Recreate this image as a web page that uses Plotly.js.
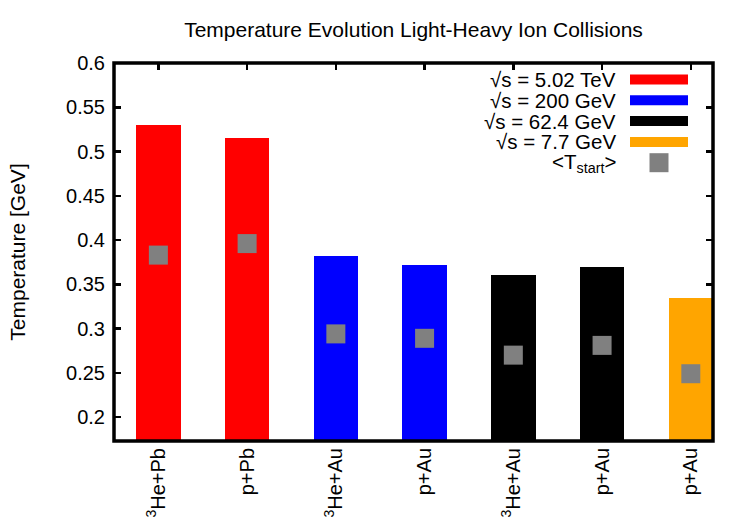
<!DOCTYPE html>
<html>
<head>
<meta charset="utf-8">
<script src="https://cdn.plot.ly/plotly-3.0.1.min.js"></script>
<style>
  html, body { margin: 0; padding: 0; background: #fff; }
  #chart { width: 750px; height: 525px; }
</style>
</head>
<body>
<div id="chart"></div>
<script>
// Collision systems, one bar each
const systems = ['<sup>3</sup>He+Pb', 'p+Pb', '<sup>3</sup>He+Au', 'p+Au', '<sup>3</sup>He+Au', 'p+Au', 'p+Au'];
// Collision energy group of each system (index into energyLabels)
const energyGroup = [0, 0, 1, 1, 2, 2, 3];
const energyLabels = ['√s = 5.02 TeV', '√s = 200 GeV', '√s = 62.4 GeV', '√s = 7.7 GeV'];
const energyColors = ['#ff0000', '#0000ff', '#000000', '#ffa500'];
// Maximum temperature reached [GeV]
const tempMax = [0.530, 0.515, 0.382, 0.372, 0.361, 0.370, 0.334];
// Average starting temperature <T_start> [GeV]
const tempStart = [0.383, 0.396, 0.294, 0.289, 0.270, 0.281, 0.249];
const startLabel = '&lt;T<sub>start</sub>&gt;';
// Temperature axis ticks
const yTicks = [0.2, 0.25, 0.3, 0.35, 0.4, 0.45, 0.5, 0.55, 0.6];
const yTickText = ['0.2', '0.25', '0.3', '0.35', '0.4', '0.45', '0.5', '0.55', '0.6'];

const FONT = 'Liberation Sans, Arial, Helvetica, sans-serif';
const xPos = systems.map((_, i) => i);

const bars = {
  type: 'bar',
  x: xPos,
  y: tempMax,
  width: 0.5,
  marker: { color: energyGroup.map(g => energyColors[g]), line: { width: 0 } },
  showlegend: false,
  hoverinfo: 'y'
};

const starts = {
  type: 'scatter',
  mode: 'markers',
  x: xPos,
  y: tempStart,
  marker: { symbol: 'square', size: 19, color: '#808080', line: { width: 0 } },
  showlegend: false,
  hoverinfo: 'y'
};

// Hand-drawn key in the upper right corner (text to the left of each swatch)
const M = { l: 114, r: 37, t: 63, b: 84 };
const W = 750, H = 525;
const pw = W - M.l - M.r, ph = H - M.t - M.b;
const px = x => (x - M.l) / pw;
const py = y => (H - M.b - y) / ph;

const keyRows = [79.5, 100.3, 121.1, 141.9, 162.7];
const annotations = [];
const shapes = [];
energyLabels.forEach((lab, i) => {
  annotations.push({
    xref: 'paper', yref: 'paper', x: px(618), y: py(keyRows[i]),
    xanchor: 'right', yanchor: 'middle', showarrow: false,
    text: lab, font: { family: FONT, size: 20.5, color: '#000' }
  });
  shapes.push({
    type: 'rect', xref: 'paper', yref: 'paper', layer: 'above',
    x0: px(630), x1: px(688), y0: py(keyRows[i] + 5), y1: py(keyRows[i] - 5),
    fillcolor: energyColors[i], line: { width: 0 }
  });
});
annotations.push({
  xref: 'paper', yref: 'paper', x: px(618), y: py(keyRows[4]),
  xanchor: 'right', yanchor: 'middle', showarrow: false,
  text: startLabel, font: { family: FONT, size: 20.5, color: '#000' }
});
shapes.push({
  type: 'rect', xref: 'paper', yref: 'paper', layer: 'above',
  x0: px(649.5), x1: px(668.5), y0: py(keyRows[4] + 9.5), y1: py(keyRows[4] - 9.5),
  fillcolor: '#808080', line: { width: 0 }
});
// Frame around the plotting area
shapes.push({
  type: 'rect', xref: 'paper', yref: 'paper', layer: 'above',
  x0: 0, x1: 1, y0: 0, y1: 1,
  line: { color: '#000', width: 3.5 }, fillcolor: 'rgba(0,0,0,0)'
});

const layout = {
  width: W, height: H,
  margin: M,
  paper_bgcolor: '#fff', plot_bgcolor: '#fff',
  font: { family: FONT, size: 20, color: '#000' },
  title: {
    text: 'Temperature Evolution Light-Heavy Ion Collisions',
    font: { family: FONT, size: 21, color: '#000' },
    x: 0.5, xref: 'paper', xanchor: 'center',
    y: 1 - 30 / H, yref: 'container', yanchor: 'middle'
  },
  xaxis: {
    range: [-0.5, 6.25],
    tickmode: 'array', tickvals: xPos, ticktext: systems,
    tickangle: -90,
    ticks: 'inside', ticklen: 7, tickwidth: 2.5, tickcolor: '#000',
    mirror: 'ticks', showline: false, showgrid: false, zeroline: false,
    layer: 'below traces',
    ticklabelstandoff: 2,
    tickfont: { family: FONT, size: 20, color: '#000' }
  },
  yaxis: {
    range: [0.173, 0.6],
    tickmode: 'array', tickvals: yTicks, ticktext: yTickText,
    ticks: 'inside', ticklen: 7, tickwidth: 2.5, tickcolor: '#000',
    mirror: 'ticks', showline: false, showgrid: false, zeroline: false,
    layer: 'below traces',
    ticklabelstandoff: 8,
    tickfont: { family: FONT, size: 20, color: '#000' },
    title: { text: 'Temperature [GeV]', font: { family: FONT, size: 21, color: '#000' }, standoff: 34 },
    automargin: false
  },
  annotations: annotations,
  shapes: shapes,
  bargap: 0,
  hovermode: 'closest'
};

Plotly.newPlot('chart', [bars, starts], layout, { displayModeBar: false, staticPlot: true });
</script>
</body>
</html>
